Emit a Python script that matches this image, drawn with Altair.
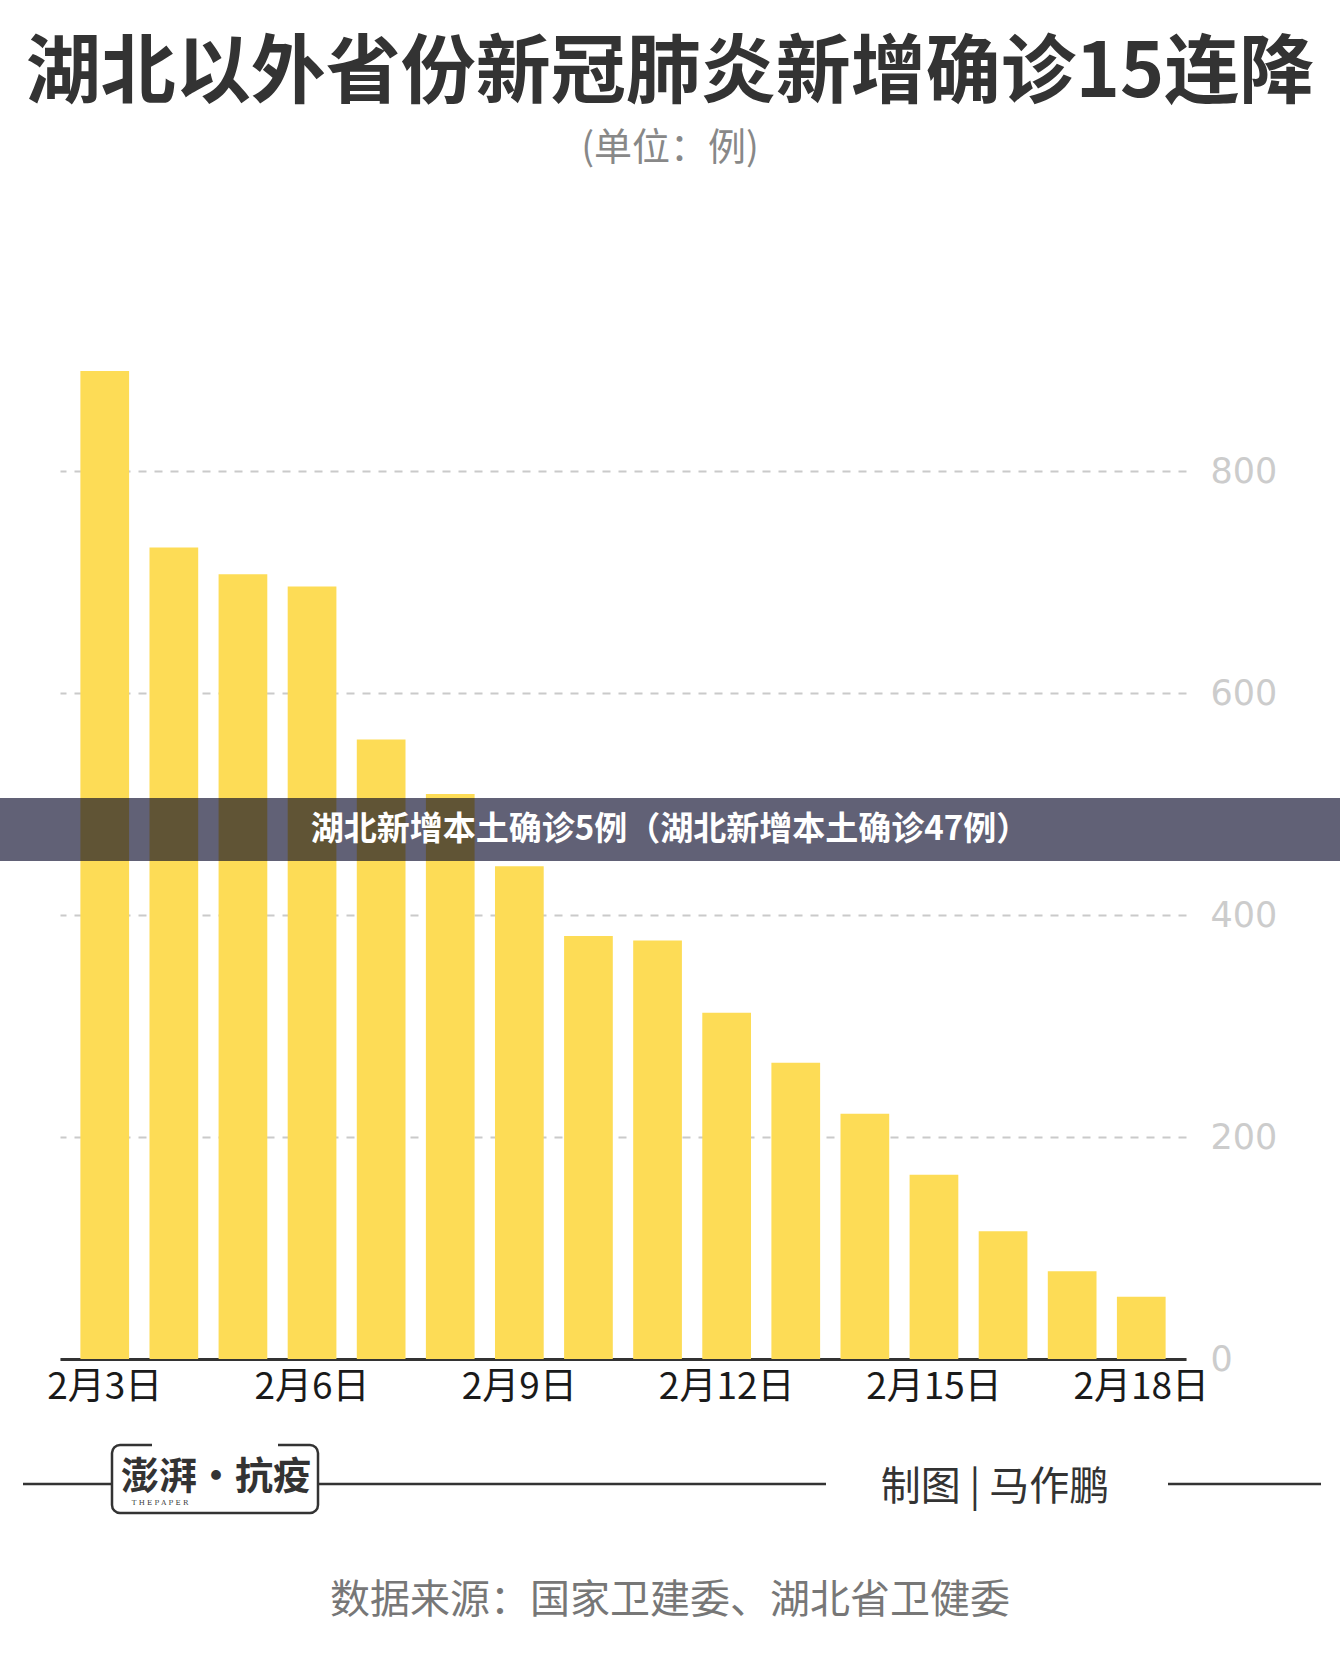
import altair as alt
import pandas as pd

# Daily new confirmed cases in provinces outside Hubei
days = ["2月3日", "2月4日", "2月5日", "2月6日", "2月7日", "2月8日", "2月9日", "2月10日",
        "2月11日", "2月12日", "2月13日", "2月14日", "2月15日", "2月16日", "2月17日", "2月18日"]
cases = [890, 731, 707, 696, 558, 509, 444, 381, 377, 312, 267, 221, 166, 115, 79, 56]
shown_days = ["2月3日", "2月6日", "2月9日", "2月12日", "2月15日", "2月18日"]
y_ticks = [0, 200, 400, 600, 800]

title_text = "湖北以外省份新冠肺炎新增确诊15连降"
unit_text = "(单位：例)"
banner_text = "湖北新增本土确诊5例（湖北新增本土确诊47例）"
logo_text = "澎湃·抗疫"
logo_sub = "T H E    P A P E R"
credit_text = "制图 | 马作鹏"
source_text = "数据来源：国家卫建委、湖北省卫健委"

CJK = "Noto Sans CJK SC"
df = pd.DataFrame({"day": days, "cases": cases})
one = pd.DataFrame({"k": [0]})

bars = alt.Chart(df).mark_bar(color="#FDDC56").encode(
    x=alt.X("day:N", sort=days, title=None,
            scale=alt.Scale(paddingInner=0.295, paddingOuter=0.295),
            axis=alt.Axis(values=shown_days, labelAngle=0, labelFontSize=37,
                          labelColor="#1a1a1a", labelFont=CJK, domainColor="#333333",
                          domainWidth=3, ticks=False, labelPadding=10)),
    y=alt.Y("cases:Q", title=None,
            scale=alt.Scale(domain=[0, 900], nice=False, zero=True),
            axis=alt.Axis(orient="right", values=y_ticks, grid=True, gridDash=[8, 8],
                          gridColor="#cacaca", gridWidth=2, domain=False, ticks=False,
                          labelPadding=24, labelColor="#cccccc", labelFontSize=35,
                          labelFont="DejaVu Sans", labelAlign="left")),
)


def text_layer(txt, x, y, size, color, weight="normal", font=CJK, style="normal"):
    return alt.Chart(one).mark_text(
        text=txt, fontSize=size, color=color, fontWeight=weight, font=font,
        fontStyle=style, align="center", baseline="middle",
    ).encode(x=alt.value(x), y=alt.value(y))


def rule_layer(x1, x2, y, color="#333333", width=2.5):
    return alt.Chart(one).mark_rule(color=color, strokeWidth=width).encode(
        x=alt.value(x1), x2=alt.value(x2), y=alt.value(y))


title = text_layer(title_text, 610, -286, 75, "#333333", weight="bold")
unit = text_layer(unit_text, 610, -211, 38, "#888888")

banner = alt.Chart(one).mark_rect(color="#000022", opacity=0.62).encode(
    x=alt.value(-60), x2=alt.value(1280), y=alt.value(438), y2=alt.value(501))
banner_label = text_layer(banner_text, 610, 470, 33, "#ffffff", weight="bold")

# Footer: logo box, separator lines, credit and source
line_left = rule_layer(-37, 52, 1124)
line_mid = rule_layer(258, 766, 1124)
line_right = rule_layer(1108, 1261, 1124)
logo_box = alt.Chart(one).mark_rect(fill="#ffffff", stroke="#333333", strokeWidth=2.5,
                                    cornerRadius=8).encode(
    x=alt.value(52), x2=alt.value(258), y=alt.value(1085), y2=alt.value(1153))
logo_gap = rule_layer(92, 218, 1085, color="#ffffff", width=4)
logo_main = text_layer(logo_text, 156, 1118, 38, "#333333", weight="bold")
logo_small = text_layer(logo_sub, 100, 1143, 7, "#333333", font="DejaVu Serif")
credit = text_layer(credit_text, 935, 1128, 40, "#333333")
source = text_layer(source_text, 610, 1241, 40, "#777777")

chart = alt.layer(
    bars, banner, banner_label, title, unit,
    line_left, line_mid, line_right, logo_box, logo_gap, logo_main, logo_small,
    credit, source,
).properties(
    width=1126, height=999,
    autosize=alt.AutoSizeParams(type="none"),
    padding={"left": 60, "top": 360, "right": 154, "bottom": 301},
    background="#ffffff",
).configure_view(strokeWidth=0)

chart.save("out.html", embed_options={"renderer": "svg", "actions": False})
